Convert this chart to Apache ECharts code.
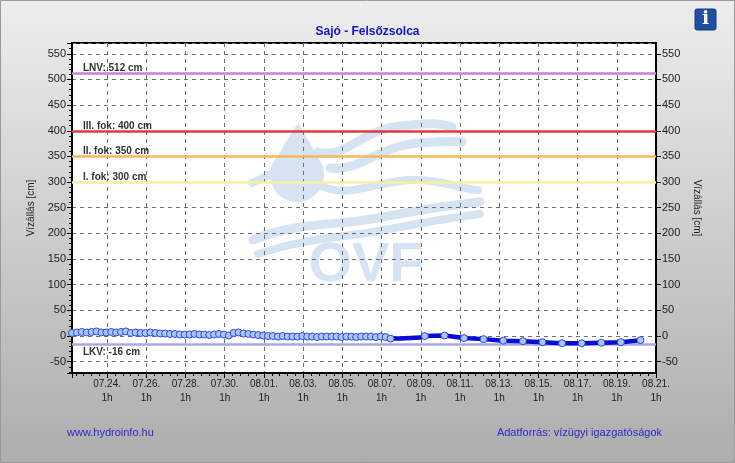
<!DOCTYPE html>
<html>
<head>
<meta charset="utf-8">
<script src="https://cdn.jsdelivr.net/npm/echarts@6/dist/echarts.min.js"></script>
<style>
    html, body { margin: 0; padding: 0; }
    #chart { width: 735px; height: 463px; }
</style>
</head>
<body>
<div id="chart"></div>
<script>
'use strict'

// 6-hourly readings, 07.22 06h -> 08.07 12h
const startA = '07-22 06'
const stepHoursA = 6
const levelA = [
    6, 7, 8, 7, 8, 9, 7, 7, 8, 7, 8, 9,
    6, 7, 6, 6, 7, 6, 5, 5,
    4, 4, 3, 3, 3, 4, 3, 3, 2, 3, 4, 3,
    1, 6, 7, 5, 4, 3, 2, 1,
    0, 0, -1, 0, -1, -1, -1, 0, -1, -1, -2, -1, -1, -1, -1, -2, -1, -1, -2, -1, -1, -1, -2, -1, -2,
    -5
]

// thick line part, daily markers at 06h
const timesB = ['08-07 12', '08-08 00', '08-08 12', '08-09 00', '08-09 06', '08-10 06', '08-11 06', '08-12 06',
    '08-13 06', '08-14 06', '08-15 06', '08-16 06', '08-17 06', '08-18 06', '08-19 06', '08-20 06']
const levelB = [-5, -5, -4, -3, 0, 1, -4, -6, -9, -10, -12, -14, -14, -13, -12, -8]

const limitNames = ['LNV', 'III. fok', 'II. fok', 'I. fok', 'LKV']
const limitValues = [512, 400, 350, 300, -16]
const limitColors = ['#cc7fdc', '#e03a3a', '#f3b95a', '#f6f0a0', '#a9a9e2']

const axisStart = '07-22 06'
const axisEnd = '08-21 01'
const yMin = -72
const yMax = 571

const base = Date.UTC(2025, 6, 24, 1)
const toDays = s => {
    const [md, h] = s.split(' ')
    const [m, d] = md.split('-').map(Number)
    return (Date.UTC(2025, m - 1, d, +h) - base) / 864e5
}
const pad = n => (n < 10 ? '0' : '') + n

const font = '"Liberation Sans", Arial, sans-serif'
const textColor = '#222'
const water = '#d5e3f3'

const dataA = levelA.map((v, i) => [toDays(startA) + i * stepHoursA / 24, v])
const dataB = levelB.map((v, i) => [toDays(timesB[i]), v])

// watermark wave strokes: [x1, y1, cpx1, cpy1, cpx2, cpy2, x2, y2, width]
const waves = [
    [318, 152, 345, 160, 360, 130, 400, 126, 9],
    [400, 126, 440, 122, 440, 124, 452, 127, 9],
    [330, 168, 360, 172, 380, 145, 420, 143, 9],
    [420, 143, 450, 141, 455, 141, 462, 142, 9],
    [252, 183, 262, 179, 268, 176, 276, 171, 8],
    [322, 186, 350, 200, 380, 178, 420, 180, 8],
    [420, 180, 450, 182, 465, 190, 478, 190, 8],
    [253, 240, 290, 225, 320, 225, 350, 222, 9],
    [350, 222, 380, 219, 420, 208, 480, 202, 9],
    [258, 254, 300, 240, 330, 238, 360, 234, 8],
    [360, 234, 390, 230, 430, 220, 480, 214, 8]
]

let option = {
    backgroundColor: {
        type: 'linear', x: 0, y: 0, x2: 0, y2: 1,
        colorStops: [{ offset: 0, color: '#ededed' }, { offset: 1, color: '#adadad' }]
    },
    animation: false,
    title: {
        text: 'Sajó - Felsőzsolca',
        left: 'center',
        top: 21,
        textStyle: { color: '#1414c4', fontSize: 12, fontWeight: 'bold', fontFamily: font }
    },
    grid: {
        left: 72, right: 79, top: 43, bottom: 90,
        show: true, z: 0,
        backgroundColor: '#fff',
        borderColor: '#000',
        borderWidth: 2
    },
    graphic: [
        {
            type: 'rect', z: 100, silent: true,
            shape: { x: 0.5, y: 0.5, width: 734, height: 462 },
            style: { fill: 'none', stroke: '#9a9a9a', lineWidth: 1 }
        },
        {
            type: 'rect', z: 100, silent: true,
            shape: { x: 695, y: 9, width: 21, height: 21, r: 2 },
            style: { fill: '#1f4f9f', stroke: '#123a7a', lineWidth: 1 }
        },
        {
            type: 'text', z: 101, silent: true,
            x: 705.5, y: 19.5,
            style: { text: 'i', fill: '#fff', font: 'bold 19px "DejaVu Serif", serif', align: 'center', verticalAlign: 'middle' }
        },
        // OVF watermark
        {
            type: 'circle', z: 1, silent: true,
            shape: { cx: 297, cy: 175, r: 27 },
            style: { fill: water }
        },
        {
            type: 'polygon', z: 1, silent: true,
            shape: { points: [[298, 123], [284, 145], [272, 168], [324, 168], [311, 145]] },
            style: { fill: water }
        },
        ...waves.map(w => ({
            type: 'bezierCurve', z: 1, silent: true,
            shape: { x1: w[0], y1: w[1], cpx1: w[2], cpy1: w[3], cpx2: w[4], cpy2: w[5], x2: w[6], y2: w[7] },
            style: { fill: 'none', stroke: water, lineWidth: w[8], lineCap: 'round' }
        })),
        {
            type: 'text', z: 1, silent: true,
            x: 366, y: 266,
            style: { text: 'OVF', fill: water, font: 'bold 56px "Liberation Sans", Arial, sans-serif', align: 'center', verticalAlign: 'middle' }
        },
        {
            type: 'text', z: 100, silent: true,
            x: 67, y: 433,
            style: { text: 'www.hydroinfo.hu', fill: '#2a2acb', font: '11px ' + font, verticalAlign: 'middle' }
        },
        {
            type: 'text', z: 100, silent: true,
            x: 662, y: 433,
            style: { text: 'Adatforrás: vízügyi igazgatóságok', fill: '#2a2acb', font: '11px ' + font, align: 'right', verticalAlign: 'middle' }
        }
    ],
    xAxis: {
        type: 'value',
        z: 2,
        min: toDays(axisStart),
        max: toDays(axisEnd),
        splitNumber: 15,
        minInterval: 2,
        maxInterval: 2,
        axisLine: { show: true, onZero: false, lineStyle: { color: '#000', width: 2 } },
        axisTick: { show: true, length: 5, lineStyle: { color: '#000' } },
        minorTick: { show: true, splitNumber: 5, length: 3, lineStyle: { color: '#000' } },
        splitLine: { show: true, lineStyle: { color: '#6e6e6e', type: [4, 4], width: 1 } },
        axisLabel: {
            showMinLabel: false,
            showMaxLabel: true,
            margin: 4,
            color: textColor,
            fontSize: 10,
            fontFamily: font,
            lineHeight: 14,
            formatter: function (v) {
                const r = Math.round(v)
                if (Math.abs(v - r) > 1e-6 || r % 2) return ''
                const t = new Date(base + r * 864e5)
                return pad(t.getUTCMonth() + 1) + '.' + pad(t.getUTCDate()) + '.\n1h'
            }
        }
    },
    yAxis: [
        {
            type: 'value',
            z: 2,
            position: 'left',
            min: yMin,
            max: yMax,
            splitNumber: 12,
            minInterval: 50,
            maxInterval: 50,
            name: 'Vízállás [cm]',
            nameLocation: 'middle',
            nameGap: 36,
            nameTextStyle: { color: textColor, fontSize: 10, fontFamily: font },
            axisLine: { show: true, onZero: false, lineStyle: { color: '#000', width: 2 } },
            axisTick: { show: true, length: 5, lineStyle: { color: '#000' } },
            minorTick: { show: true, splitNumber: 5, length: 3, lineStyle: { color: '#000' } },
            splitLine: { show: true, lineStyle: { color: '#6e6e6e', type: [4, 4], width: 1 } },
            axisLabel: { showMinLabel: false, showMaxLabel: false, margin: 6, color: textColor, fontSize: 11, fontFamily: font }
        },
        {
            type: 'value',
            z: 2,
            position: 'right',
            min: yMin,
            max: yMax,
            splitNumber: 12,
            minInterval: 50,
            maxInterval: 50,
            name: 'Vízállás [cm]',
            nameLocation: 'middle',
            nameGap: 36,
            nameRotate: -90,
            nameTextStyle: { color: textColor, fontSize: 10, fontFamily: font },
            axisLine: { show: true, onZero: false, lineStyle: { color: '#000', width: 2 } },
            axisTick: { show: true, length: 5, lineStyle: { color: '#000' } },
            splitLine: { show: false },
            axisLabel: { showMinLabel: false, showMaxLabel: false, margin: 6, color: textColor, fontSize: 11, fontFamily: font }
        }
    ],
    series: [
        {
            type: 'line',
            z: 4,
            data: dataA,
            symbol: 'circle',
            symbolSize: 7,
            showAllSymbol: true,
            lineStyle: { color: '#2437d6', width: 1.5 },
            itemStyle: { color: '#a9c6f4', borderColor: '#2f4ad8', borderWidth: 1 },
            markLine: {
                silent: true,
                symbol: 'none',
                z: 3,
                data: limitValues.map((v, k) => ({
                    yAxis: v,
                    name: limitNames[k] + ': ' + v + ' cm',
                    lineStyle: { color: limitColors[k], width: 2.5, type: 'solid' },
                    label: v < 0
                        ? { position: 'insideStartBottom', distance: [11, 3] }
                        : { position: 'insideStartTop', distance: [11, 0] }
                })),
                label: {
                    show: true,
                    formatter: '{b}',
                    color: '#333',
                    fontSize: 10,
                    fontWeight: 'bold',
                    fontFamily: font
                }
            }
        },
        {
            type: 'line',
            z: 4,
            data: dataB,
            symbol: 'circle',
            symbolSize: (v, p) => timesB[p.dataIndex].endsWith(' 06') ? 7 : 0,
            showAllSymbol: true,
            lineStyle: { color: '#0a0ad6', width: 4.5 },
            itemStyle: { color: '#a9c6f4', borderColor: '#2f4ad8', borderWidth: 1 }
        }
    ]
}

let myChart = echarts.init(document.getElementById('chart'), null, { renderer: 'canvas' })
myChart.setOption(option)
</script>
</body>
</html>
